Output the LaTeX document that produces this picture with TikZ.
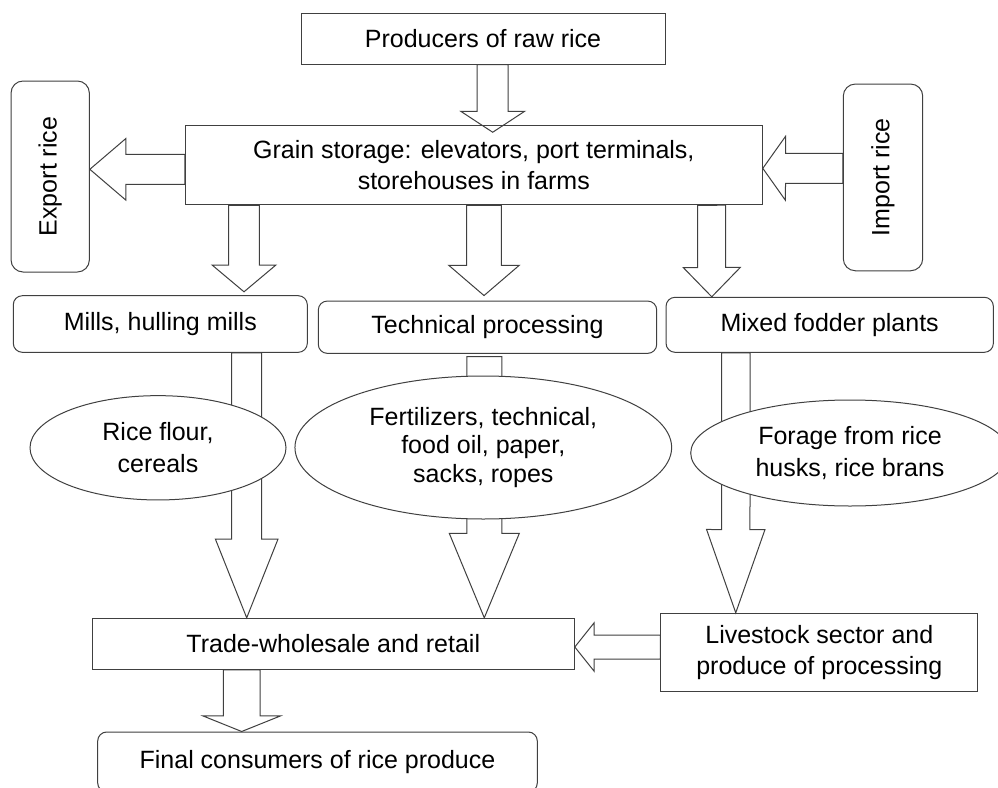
\documentclass[tikz,border=0pt]{standalone}
\usepackage{fontspec}
\setmainfont{Liberation Sans}
\usetikzlibrary{calc,shapes.geometric}

\tikzset{
  box/.style={draw=black!75, line width=1pt, inner sep=0pt, align=center,
    font=\fontsize{25}{31.5}\selectfont},
  roundbox/.style={box, rounded corners=9pt},
  oval/.style={box, ellipse, fill=white},
  fatline/.style={draw=black!75, line width=1pt, line join=miter},
}

% hollow block arrow: start, tip, half shaft, half head, head length
\newcommand{\fatarrow}[5]{%
  \path (#1) coordinate (fa-s) (#2) coordinate (fa-t);
  \path ($(fa-t)!#5!(fa-s)$) coordinate (fa-h);
  \draw[fatline] ($(fa-s)!#3!90:(fa-t)$) -- ($(fa-h)!#3!90:(fa-t)$)
    -- ($(fa-h)!#4!90:(fa-t)$) -- (fa-t) -- ($(fa-h)!#4!-90:(fa-t)$)
    -- ($(fa-h)!#3!-90:(fa-t)$) -- ($(fa-s)!#3!-90:(fa-t)$) -- cycle;
}

\begin{document}
\begin{tikzpicture}[x=1pt,y=-1pt]
  \fill[white] (0,0) rectangle (998,787);
  \clip (0,0) rectangle (998,787);
  % storage level
  \node[box, minimum width=364pt, minimum height=51pt] (producers) at (483,38.5) {Producers of raw rice};
  \node[box, minimum width=577pt, minimum height=79.7pt] (storage) at (473.8,164.9)
    {Grain storage: elevators, port terminals,\\ storehouses in farms};
  \node[roundbox, rotate=90, rounded corners=12pt, minimum width=191pt, minimum height=78.3pt] (export) at (50.2,176.5) {Export rice};
  \node[roundbox, rotate=90, rounded corners=12pt, minimum width=186.7pt, minimum height=79.4pt] (import) at (883,177.4) {Import rice};
  % processing
  \node[roundbox, minimum width=294pt, minimum height=56.6pt] (mills) at (160.3,324) {Mills, hulling mills};
  \node[roundbox, minimum width=338.4pt, minimum height=52.3pt] (technical) at (487.5,327.2) {Technical processing};
  \node[roundbox, minimum width=327.3pt, minimum height=55pt] (fodder) at (829.7,324.8) {Mixed fodder plants};
  % trade and consumers
  \node[box, minimum width=482pt, minimum height=51pt] (trade) at (333.3,643.8) {Trade-wholesale and retail};
  \node[box, minimum width=316.7pt, minimum height=78.4pt] (livestock) at (819.3,652.5)
    {Livestock sector and\\ produce of processing};
  \node[roundbox, minimum width=439.6pt, minimum height=60pt] (consumers) at (317.5,762) {Final consumers of rice produce};

  % arrows
  \fatarrow{[xshift=9.7pt]producers.south}{[xshift=18.9pt,yshift=-7.7pt]storage.north}{15.5pt}{32pt}{21pt}
  \fatarrow{[yshift=-4.45pt]storage.west}{[yshift=7.2pt]export.south}{15pt}{30.8pt}{36pt}
  \fatarrow{[yshift=9pt]import.north}{[yshift=-3.45pt]storage.east}{15pt}{32pt}{22.7pt}
  \fatarrow{[xshift=-229.8pt]storage.south}{[xshift=83.7pt,yshift=3.4pt]mills.north}{15.3pt}{31.7pt}{26.6pt}
  \fatarrow{[xshift=10.2pt]storage.south}{[xshift=-3.5pt,yshift=5pt]technical.north}{17.3pt}{35.3pt}{30.3pt}
  \fatarrow{[xshift=237.9pt]storage.south}{[xshift=-117.95pt]fodder.north}{14pt}{28.5pt}{29.3pt}
  \fatarrow{[xshift=86.4pt]mills.south}{[xshift=-86.6pt]trade.north}{15pt}{31.3pt}{78.7pt}
  \fatarrow{[xshift=-3.2pt,yshift=-2.7pt]technical.south}{[xshift=151pt]trade.north}{17.5pt}{35pt}{84.4pt}
  \fatarrow{[xshift=-93.85pt]fodder.south}{[xshift=-83.55pt]livestock.north}{14.2pt}{29.2pt}{83.3pt}
  \fatarrow{[yshift=5.5pt]livestock.west}{[yshift=-3.2pt]trade.east}{12pt}{24.2pt}{19.3pt}
  \fatarrow{[xshift=-91.6pt]trade.south}{[xshift=-75.8pt]consumers.north}{18.3pt}{38.8pt}{15.6pt}

  % products
  \node[oval, minimum width=256pt, minimum height=104.3pt] (flour) at (158,447.8) {Rice flour,\\ cereals};
  \node[oval, minimum width=376.7pt, minimum height=143pt, font=\fontsize{25}{28.5}\selectfont] (fertil) at (483.3,447.5)
    {Fertilizers, technical,\\ food oil, paper,\\ sacks, ropes};
  \node[oval, minimum width=318.6pt, minimum height=106pt] (forage) at (850,453) {Forage from rice\\ husks, rice brans};
\end{tikzpicture}
\end{document}
